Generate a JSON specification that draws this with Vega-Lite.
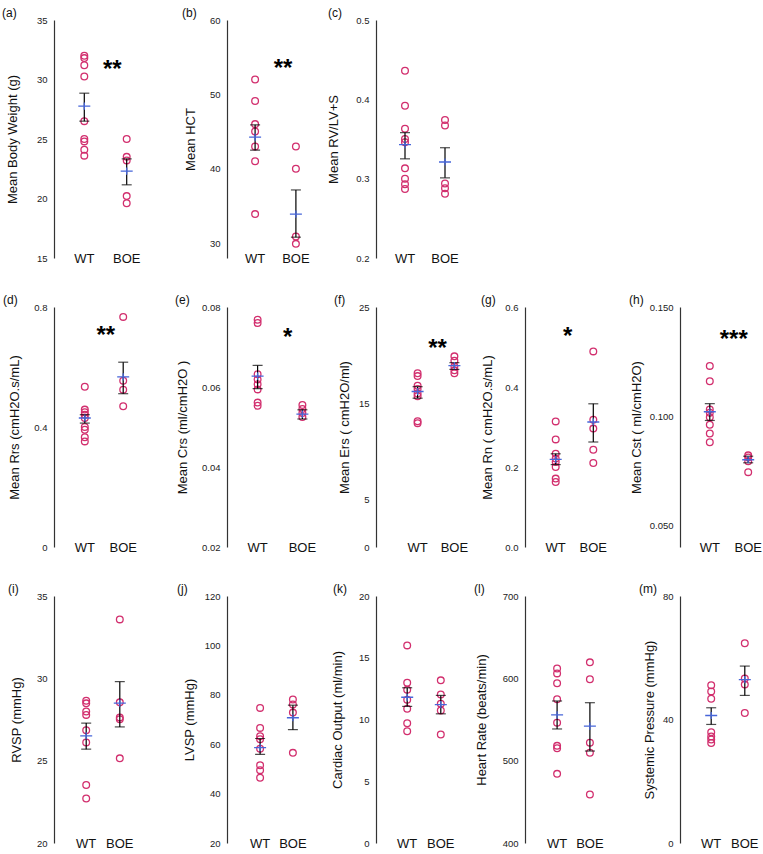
{
"$schema": "https://vega.github.io/schema/vega-lite/v6.json",
"padding": {"left": 2, "top": 7, "right": 0, "bottom": 0},
"datasets": {
"obs": [
{"p":"a","g":"WT","v":32.0},{"p":"a","g":"WT","v":31.8},{"p":"a","g":"WT","v":31.2},{"p":"a","g":"WT","v":30.25},{"p":"a","g":"WT","v":26.5},{"p":"a","g":"WT","v":25.0},{"p":"a","g":"WT","v":24.8},{"p":"a","g":"WT","v":24.1},{"p":"a","g":"WT","v":23.6},
{"p":"a","g":"BOE","v":25.0},{"p":"a","g":"BOE","v":23.5},{"p":"a","g":"BOE","v":23.2},{"p":"a","g":"BOE","v":20.2},{"p":"a","g":"BOE","v":19.6},
{"p":"b","g":"WT","v":52.0},{"p":"b","g":"WT","v":49.1},{"p":"b","g":"WT","v":46.0},{"p":"b","g":"WT","v":45.0},{"p":"b","g":"WT","v":43.0},{"p":"b","g":"WT","v":41.0},{"p":"b","g":"WT","v":33.9},
{"p":"b","g":"BOE","v":43.0},{"p":"b","g":"BOE","v":40.0},{"p":"b","g":"BOE","v":30.9},{"p":"b","g":"BOE","v":29.9},
{"p":"c","g":"WT","v":0.436},{"p":"c","g":"WT","v":0.392},{"p":"c","g":"WT","v":0.363},{"p":"c","g":"WT","v":0.350},{"p":"c","g":"WT","v":0.346},{"p":"c","g":"WT","v":0.313},{"p":"c","g":"WT","v":0.300},{"p":"c","g":"WT","v":0.293},{"p":"c","g":"WT","v":0.287},
{"p":"c","g":"BOE","v":0.374},{"p":"c","g":"BOE","v":0.367},{"p":"c","g":"BOE","v":0.294},{"p":"c","g":"BOE","v":0.288},{"p":"c","g":"BOE","v":0.281},
{"p":"d","g":"WT","v":0.534},{"p":"d","g":"WT","v":0.458},{"p":"d","g":"WT","v":0.449},{"p":"d","g":"WT","v":0.441},{"p":"d","g":"WT","v":0.43},{"p":"d","g":"WT","v":0.40},{"p":"d","g":"WT","v":0.391},{"p":"d","g":"WT","v":0.366},{"p":"d","g":"WT","v":0.352},
{"p":"d","g":"BOE","v":0.767},{"p":"d","g":"BOE","v":0.554},{"p":"d","g":"BOE","v":0.524},{"p":"d","g":"BOE","v":0.469},
{"p":"e","g":"WT","v":0.0768},{"p":"e","g":"WT","v":0.076},{"p":"e","g":"WT","v":0.0632},{"p":"e","g":"WT","v":0.0619},{"p":"e","g":"WT","v":0.0607},{"p":"e","g":"WT","v":0.0594},{"p":"e","g":"WT","v":0.0561},{"p":"e","g":"WT","v":0.0553},
{"p":"e","g":"BOE","v":0.0555},{"p":"e","g":"BOE","v":0.0545},{"p":"e","g":"BOE","v":0.0535},{"p":"e","g":"BOE","v":0.0525},
{"p":"f","g":"WT","v":18.1},{"p":"f","g":"WT","v":17.8},{"p":"f","g":"WT","v":16.8},{"p":"f","g":"WT","v":16.46},{"p":"f","g":"WT","v":16.0},{"p":"f","g":"WT","v":15.7},{"p":"f","g":"WT","v":13.1},{"p":"f","g":"WT","v":12.9},
{"p":"f","g":"BOE","v":19.86},{"p":"f","g":"BOE","v":19.4},{"p":"f","g":"BOE","v":18.8},{"p":"f","g":"BOE","v":18.4},{"p":"f","g":"BOE","v":18.1},
{"p":"g","g":"WT","v":0.314},{"p":"g","g":"WT","v":0.269},{"p":"g","g":"WT","v":0.233},{"p":"g","g":"WT","v":0.221},{"p":"g","g":"WT","v":0.2125},{"p":"g","g":"WT","v":0.2},{"p":"g","g":"WT","v":0.171},{"p":"g","g":"WT","v":0.1625},
{"p":"g","g":"BOE","v":0.489},{"p":"g","g":"BOE","v":0.318},{"p":"g","g":"BOE","v":0.296},{"p":"g","g":"BOE","v":0.243},{"p":"g","g":"BOE","v":0.21},
{"p":"h","g":"WT","v":0.123},{"p":"h","g":"WT","v":0.116},{"p":"h","g":"WT","v":0.103},{"p":"h","g":"WT","v":0.1015},{"p":"h","g":"WT","v":0.0995},{"p":"h","g":"WT","v":0.096},{"p":"h","g":"WT","v":0.092},{"p":"h","g":"WT","v":0.088},
{"p":"h","g":"BOE","v":0.082},{"p":"h","g":"BOE","v":0.081},{"p":"h","g":"BOE","v":0.0793},{"p":"h","g":"BOE","v":0.0743},
{"p":"i","g":"WT","v":28.64},{"p":"i","g":"WT","v":28.48},{"p":"i","g":"WT","v":27.99},{"p":"i","g":"WT","v":27.78},{"p":"i","g":"WT","v":26.85},{"p":"i","g":"WT","v":26.1},{"p":"i","g":"WT","v":23.52},{"p":"i","g":"WT","v":22.7},
{"p":"i","g":"BOE","v":33.58},{"p":"i","g":"BOE","v":28.54},{"p":"i","g":"BOE","v":27.62},{"p":"i","g":"BOE","v":27.52},{"p":"i","g":"BOE","v":25.14},
{"p":"j","g":"WT","v":74.7},{"p":"j","g":"WT","v":66.6},{"p":"j","g":"WT","v":63.2},{"p":"j","g":"WT","v":62.0},{"p":"j","g":"WT","v":58.2},{"p":"j","g":"WT","v":51.5},{"p":"j","g":"WT","v":49.5},{"p":"j","g":"WT","v":46.4},
{"p":"j","g":"BOE","v":78.1},{"p":"j","g":"BOE","v":76.1},{"p":"j","g":"BOE","v":72.8},{"p":"j","g":"BOE","v":56.5},
{"p":"k","g":"WT","v":16.0},{"p":"k","g":"WT","v":12.98},{"p":"k","g":"WT","v":12.4},{"p":"k","g":"WT","v":11.6},{"p":"k","g":"WT","v":10.87},{"p":"k","g":"WT","v":9.7},{"p":"k","g":"WT","v":9.05},
{"p":"k","g":"BOE","v":13.17},{"p":"k","g":"BOE","v":12.03},{"p":"k","g":"BOE","v":11.27},{"p":"k","g":"BOE","v":10.73},{"p":"k","g":"BOE","v":8.78},
{"p":"l","g":"WT","v":612},{"p":"l","g":"WT","v":606},{"p":"l","g":"WT","v":594},{"p":"l","g":"WT","v":574.5},{"p":"l","g":"WT","v":546},{"p":"l","g":"WT","v":518},{"p":"l","g":"WT","v":515},{"p":"l","g":"WT","v":484},
{"p":"l","g":"BOE","v":619.4},{"p":"l","g":"BOE","v":598.8},{"p":"l","g":"BOE","v":521.9},{"p":"l","g":"BOE","v":509.7},{"p":"l","g":"BOE","v":459},
{"p":"m","g":"WT","v":51.1},{"p":"m","g":"WT","v":49.1},{"p":"m","g":"WT","v":46.7},{"p":"m","g":"WT","v":35.9},{"p":"m","g":"WT","v":34.5},{"p":"m","g":"WT","v":33.5},{"p":"m","g":"WT","v":32.4},
{"p":"m","g":"BOE","v":64.7},{"p":"m","g":"BOE","v":53.3},{"p":"m","g":"BOE","v":51.3},{"p":"m","g":"BOE","v":42.1}
],
"mean": [
{"p":"a","g":"WT","v":27.76},{"p":"a","g":"BOE","v":22.3},
{"p":"b","g":"WT","v":44.25},{"p":"b","g":"BOE","v":33.9},
{"p":"c","g":"WT","v":0.343},{"p":"c","g":"BOE","v":0.321},
{"p":"d","g":"WT","v":0.43},{"p":"d","g":"BOE","v":0.567},
{"p":"e","g":"WT","v":0.0627},{"p":"e","g":"BOE","v":0.0532},
{"p":"f","g":"WT","v":16.2},{"p":"f","g":"BOE","v":18.9},
{"p":"g","g":"WT","v":0.219},{"p":"g","g":"BOE","v":0.3125},
{"p":"h","g":"WT","v":0.102},{"p":"h","g":"BOE","v":0.080},
{"p":"i","g":"WT","v":26.5},{"p":"i","g":"BOE","v":28.5},
{"p":"j","g":"WT","v":58.6},{"p":"j","g":"BOE","v":70.7},
{"p":"k","g":"WT","v":11.8},{"p":"k","g":"BOE","v":11.2},
{"p":"l","g":"WT","v":555.5},{"p":"l","g":"BOE","v":542},
{"p":"m","g":"WT","v":41.3},{"p":"m","g":"BOE","v":52.9}
],
"err": [
{"p":"a","g":"WT","v":26.5},{"p":"a","g":"WT","v":28.85},{"p":"a","g":"BOE","v":21.15},{"p":"a","g":"BOE","v":23.33},
{"p":"b","g":"WT","v":42.5},{"p":"b","g":"WT","v":45.9},{"p":"b","g":"BOE","v":30.8},{"p":"b","g":"BOE","v":37.15},
{"p":"c","g":"WT","v":0.325},{"p":"c","g":"WT","v":0.358},{"p":"c","g":"BOE","v":0.301},{"p":"c","g":"BOE","v":0.339},
{"p":"d","g":"WT","v":0.413},{"p":"d","g":"WT","v":0.441},{"p":"d","g":"BOE","v":0.511},{"p":"d","g":"BOE","v":0.616},
{"p":"e","g":"WT","v":0.0596},{"p":"e","g":"WT","v":0.0654},{"p":"e","g":"BOE","v":0.052},{"p":"e","g":"BOE","v":0.0543},
{"p":"f","g":"WT","v":15.5},{"p":"f","g":"WT","v":16.7},{"p":"f","g":"BOE","v":18.5},{"p":"f","g":"BOE","v":19.2},
{"p":"g","g":"WT","v":0.206},{"p":"g","g":"WT","v":0.233},{"p":"g","g":"BOE","v":0.2625},{"p":"g","g":"BOE","v":0.358},
{"p":"h","g":"WT","v":0.098},{"p":"h","g":"WT","v":0.1057},{"p":"h","g":"BOE","v":0.0786},{"p":"h","g":"BOE","v":0.0816},
{"p":"i","g":"WT","v":25.7},{"p":"i","g":"WT","v":27.28},{"p":"i","g":"BOE","v":27.05},{"p":"i","g":"BOE","v":29.8},
{"p":"j","g":"WT","v":55.9},{"p":"j","g":"WT","v":62.3},{"p":"j","g":"BOE","v":65.9},{"p":"j","g":"BOE","v":75.8},
{"p":"k","g":"WT","v":11.06},{"p":"k","g":"WT","v":12.57},{"p":"k","g":"BOE","v":10.46},{"p":"k","g":"BOE","v":11.95},
{"p":"l","g":"WT","v":538.5},{"p":"l","g":"WT","v":572.5},{"p":"l","g":"BOE","v":511.7},{"p":"l","g":"BOE","v":570.4},
{"p":"m","g":"WT","v":38.4},{"p":"m","g":"WT","v":43.8},{"p":"m","g":"BOE","v":47.8},{"p":"m","g":"BOE","v":57.3}
],
"sig": [
{"p":"a","g":"WT","v":31.2,"t":"**"},
{"p":"b","g":"WT","v":54.1,"t":"**"},
{"p":"d","g":"WT","v":0.719,"t":"**"},
{"p":"e","g":"WT","v":0.0734,"t":"*"},
{"p":"f","g":"WT","v":21.15,"t":"**"},
{"p":"g","g":"WT","v":0.5375,"t":"*"},
{"p":"h","g":"WT","v":0.137,"t":"***"}
]
},
"columns": 5,
"spacing": {"row": 49, "column": 55},
"bounds": "flush",
"align": "each",
"concat": [
{"width":118,"height":238,"title":{"text":"(a)","dx":-52},
 "encoding":{"x":{"field":"g","type":"nominal","scale":{"domain":["WT","BOE"],"range":[-1.5,104.5],"padding":0.5},"axis":{"title":null}},
  "y":{"field":"v","type":"quantitative","scale":{"domain":[15,35],"nice":false,"zero":false},"axis":{"title":"Mean Body Weight (g)","values":[15,20,25,30,35],"format":"d","titleX":-42}}},
 "layer":[
  {"data":{"name":"obs"},"transform":[{"filter":"datum.p==='a'"}],"mark":{"type":"point","shape":"circle","filled":false,"color":"#d22f6e","size":45,"strokeWidth":1.3,"opacity":1}},
  {"data":{"name":"err"},"transform":[{"filter":"datum.p==='a'"}],"mark":{"type":"line","color":"#000","strokeWidth":1.2},"encoding":{"detail":{"field":"g"}}},
  {"data":{"name":"err"},"transform":[{"filter":"datum.p==='a'"}],"mark":{"type":"tick","color":"#000","size":10,"thickness":1.2}},
  {"data":{"name":"mean"},"transform":[{"filter":"datum.p==='a'"}],"mark":{"type":"point","shape":"M-1,0H1M0,-0.6V0.6","filled":false,"color":"#4766d9","size":144,"strokeWidth":1.3,"opacity":1}},
  {"data":{"name":"sig"},"transform":[{"filter":"datum.p==='a'"}],"mark":{"type":"text","fontSize":24,"fontWeight":"bold","dx":28,"dy":12,"baseline":"alphabetic","align":"center","color":"#000"},"encoding":{"text":{"field":"t"}}}
 ]},
{"width":94,"height":238,"title":{"text":"(b)","dx":-45},
 "encoding":{"x":{"field":"g","type":"nominal","scale":{"domain":["WT","BOE"],"range":[-2.5,99.5],"padding":0.5},"axis":{"title":null}},
  "y":{"field":"v","type":"quantitative","scale":{"domain":[28,60],"nice":false,"zero":false},"axis":{"title":"Mean HCT","values":[30,40,50,60],"format":"d","titleX":-37}}},
 "layer":[
  {"data":{"name":"obs"},"transform":[{"filter":"datum.p==='b'"}],"mark":{"type":"point","shape":"circle","filled":false,"color":"#d22f6e","size":45,"strokeWidth":1.3,"opacity":1}},
  {"data":{"name":"err"},"transform":[{"filter":"datum.p==='b'"}],"mark":{"type":"line","color":"#000","strokeWidth":1.2},"encoding":{"detail":{"field":"g"}}},
  {"data":{"name":"err"},"transform":[{"filter":"datum.p==='b'"}],"mark":{"type":"tick","color":"#000","size":10,"thickness":1.2}},
  {"data":{"name":"mean"},"transform":[{"filter":"datum.p==='b'"}],"mark":{"type":"point","shape":"M-1,0H1M0,-0.6V0.6","filled":false,"color":"#4766d9","size":144,"strokeWidth":1.3,"opacity":1}},
  {"data":{"name":"sig"},"transform":[{"filter":"datum.p==='b'"}],"mark":{"type":"text","fontSize":24,"fontWeight":"bold","dx":28,"dy":12,"baseline":"alphabetic","align":"center","color":"#000"},"encoding":{"text":{"field":"t"}}}
 ]},
{"width":94,"height":238,"title":{"text":"(c)","dx":-48},
 "encoding":{"x":{"field":"g","type":"nominal","scale":{"domain":["WT","BOE"],"range":[-1,99],"padding":0.5},"axis":{"title":null}},
  "y":{"field":"v","type":"quantitative","scale":{"domain":[0.2,0.5],"nice":false,"zero":false},"axis":{"title":"Mean RV/LV+S","values":[0.2,0.3,0.4,0.5],"format":".1f","titleX":-43}}},
 "layer":[
  {"data":{"name":"obs"},"transform":[{"filter":"datum.p==='c'"}],"mark":{"type":"point","shape":"circle","filled":false,"color":"#d22f6e","size":45,"strokeWidth":1.3,"opacity":1}},
  {"data":{"name":"err"},"transform":[{"filter":"datum.p==='c'"}],"mark":{"type":"line","color":"#000","strokeWidth":1.2},"encoding":{"detail":{"field":"g"}}},
  {"data":{"name":"err"},"transform":[{"filter":"datum.p==='c'"}],"mark":{"type":"tick","color":"#000","size":10,"thickness":1.2}},
  {"data":{"name":"mean"},"transform":[{"filter":"datum.p==='c'"}],"mark":{"type":"point","shape":"M-1,0H1M0,-0.6V0.6","filled":false,"color":"#4766d9","size":144,"strokeWidth":1.3,"opacity":1}}
 ]},
{"width":10,"height":10,"data":{"values":[{}]},"mark":{"type":"point","opacity":0},"encoding":{}},
{"width":10,"height":10,"data":{"values":[{}]},"mark":{"type":"point","opacity":0},"encoding":{}},
{"width":118,"height":240,"title":{"text":"(d)","dx":-51},
 "encoding":{"x":{"field":"g","type":"nominal","scale":{"domain":["WT","BOE"],"range":[2,98],"padding":0.5},"axis":{"title":null}},
  "y":{"field":"v","type":"quantitative","scale":{"domain":[0,0.8],"nice":false,"zero":false},"axis":{"title":"Mean Rrs (cmH2O.s/mL)","values":[0,0.4,0.8],"format":"~g","titleX":-40}}},
 "layer":[
  {"data":{"name":"obs"},"transform":[{"filter":"datum.p==='d'"}],"mark":{"type":"point","shape":"circle","filled":false,"color":"#d22f6e","size":45,"strokeWidth":1.3,"opacity":1}},
  {"data":{"name":"err"},"transform":[{"filter":"datum.p==='d'"}],"mark":{"type":"line","color":"#000","strokeWidth":1.2},"encoding":{"detail":{"field":"g"}}},
  {"data":{"name":"err"},"transform":[{"filter":"datum.p==='d'"}],"mark":{"type":"tick","color":"#000","size":10,"thickness":1.2}},
  {"data":{"name":"mean"},"transform":[{"filter":"datum.p==='d'"}],"mark":{"type":"point","shape":"M-1,0H1M0,-0.6V0.6","filled":false,"color":"#4766d9","size":144,"strokeWidth":1.3,"opacity":1}},
  {"data":{"name":"sig"},"transform":[{"filter":"datum.p==='d'"}],"mark":{"type":"text","fontSize":24,"fontWeight":"bold","dx":21,"dy":12,"baseline":"alphabetic","align":"center","color":"#000"},"encoding":{"text":{"field":"t"}}}
 ]},
{"width":94,"height":240,"title":{"text":"(e)","dx":-52},
 "encoding":{"x":{"field":"g","type":"nominal","scale":{"domain":["WT","BOE"],"range":[-3,109],"padding":0.5},"axis":{"title":null}},
  "y":{"field":"v","type":"quantitative","scale":{"domain":[0.02,0.08],"nice":false,"zero":false},"axis":{"title":"Mean Crs (ml/cmH2O )","values":[0.02,0.04,0.06,0.08],"format":".2f","titleX":-45}}},
 "layer":[
  {"data":{"name":"obs"},"transform":[{"filter":"datum.p==='e'"}],"mark":{"type":"point","shape":"circle","filled":false,"color":"#d22f6e","size":45,"strokeWidth":1.3,"opacity":1}},
  {"data":{"name":"err"},"transform":[{"filter":"datum.p==='e'"}],"mark":{"type":"line","color":"#000","strokeWidth":1.2},"encoding":{"detail":{"field":"g"}}},
  {"data":{"name":"err"},"transform":[{"filter":"datum.p==='e'"}],"mark":{"type":"tick","color":"#000","size":10,"thickness":1.2}},
  {"data":{"name":"mean"},"transform":[{"filter":"datum.p==='e'"}],"mark":{"type":"point","shape":"M-1,0H1M0,-0.6V0.6","filled":false,"color":"#4766d9","size":144,"strokeWidth":1.3,"opacity":1}},
  {"data":{"name":"sig"},"transform":[{"filter":"datum.p==='e'"}],"mark":{"type":"text","fontSize":24,"fontWeight":"bold","dx":30,"dy":12,"baseline":"alphabetic","align":"center","color":"#000"},"encoding":{"text":{"field":"t"}}}
 ]},
{"width":94,"height":240,"title":{"text":"(f)","dx":-42},
 "encoding":{"x":{"field":"g","type":"nominal","scale":{"domain":["WT","BOE"],"range":[14,106],"padding":0.5},"axis":{"title":null}},
  "y":{"field":"v","type":"quantitative","scale":{"domain":[0,25],"nice":false,"zero":false},"axis":{"title":"Mean Ers ( cmH2O/ml)","values":[0,5,15,25],"format":"d","titleX":-32}}},
 "layer":[
  {"data":{"name":"obs"},"transform":[{"filter":"datum.p==='f'"}],"mark":{"type":"point","shape":"circle","filled":false,"color":"#d22f6e","size":45,"strokeWidth":1.3,"opacity":1}},
  {"data":{"name":"err"},"transform":[{"filter":"datum.p==='f'"}],"mark":{"type":"line","color":"#000","strokeWidth":1.2},"encoding":{"detail":{"field":"g"}}},
  {"data":{"name":"err"},"transform":[{"filter":"datum.p==='f'"}],"mark":{"type":"tick","color":"#000","size":10,"thickness":1.2}},
  {"data":{"name":"mean"},"transform":[{"filter":"datum.p==='f'"}],"mark":{"type":"point","shape":"M-1,0H1M0,-0.6V0.6","filled":false,"color":"#4766d9","size":144,"strokeWidth":1.3,"opacity":1}},
  {"data":{"name":"sig"},"transform":[{"filter":"datum.p==='f'"}],"mark":{"type":"text","fontSize":24,"fontWeight":"bold","dx":20,"dy":12,"baseline":"alphabetic","align":"center","color":"#000"},"encoding":{"text":{"field":"t"}}}
 ]},
{"width":100,"height":240,"title":{"text":"(g)","dx":-44},
 "encoding":{"x":{"field":"g","type":"nominal","scale":{"domain":["WT","BOE"],"range":[2.5,96.5],"padding":0.5},"axis":{"title":null}},
  "y":{"field":"v","type":"quantitative","scale":{"domain":[0,0.6],"nice":false,"zero":false},"axis":{"title":"Mean Rn ( cmH2O.s/mL)","values":[0,0.2,0.4,0.6],"format":".1f","titleX":-38}}},
 "layer":[
  {"data":{"name":"obs"},"transform":[{"filter":"datum.p==='g'"}],"mark":{"type":"point","shape":"circle","filled":false,"color":"#d22f6e","size":45,"strokeWidth":1.3,"opacity":1}},
  {"data":{"name":"err"},"transform":[{"filter":"datum.p==='g'"}],"mark":{"type":"line","color":"#000","strokeWidth":1.2},"encoding":{"detail":{"field":"g"}}},
  {"data":{"name":"err"},"transform":[{"filter":"datum.p==='g'"}],"mark":{"type":"tick","color":"#000","size":10,"thickness":1.2}},
  {"data":{"name":"mean"},"transform":[{"filter":"datum.p==='g'"}],"mark":{"type":"point","shape":"M-1,0H1M0,-0.6V0.6","filled":false,"color":"#4766d9","size":144,"strokeWidth":1.3,"opacity":1}},
  {"data":{"name":"sig"},"transform":[{"filter":"datum.p==='g'"}],"mark":{"type":"text","fontSize":24,"fontWeight":"bold","dx":12,"dy":12,"baseline":"alphabetic","align":"center","color":"#000"},"encoding":{"text":{"field":"t"}}}
 ]},
{"width":80,"height":240,"title":{"text":"(h)","dx":-51},
 "encoding":{"x":{"field":"g","type":"nominal","scale":{"domain":["WT","BOE"],"range":[1,97],"padding":0.5},"axis":{"title":null}},
  "y":{"field":"v","type":"quantitative","scale":{"domain":[0.04,0.15],"nice":false,"zero":false},"axis":{"title":"Mean Cst ( ml/cmH2O)","values":[0.05,0.1,0.15],"format":".3f","titleX":-44}}},
 "layer":[
  {"data":{"name":"obs"},"transform":[{"filter":"datum.p==='h'"}],"mark":{"type":"point","shape":"circle","filled":false,"color":"#d22f6e","size":45,"strokeWidth":1.3,"opacity":1}},
  {"data":{"name":"err"},"transform":[{"filter":"datum.p==='h'"}],"mark":{"type":"line","color":"#000","strokeWidth":1.2},"encoding":{"detail":{"field":"g"}}},
  {"data":{"name":"err"},"transform":[{"filter":"datum.p==='h'"}],"mark":{"type":"tick","color":"#000","size":10,"thickness":1.2}},
  {"data":{"name":"mean"},"transform":[{"filter":"datum.p==='h'"}],"mark":{"type":"point","shape":"M-1,0H1M0,-0.6V0.6","filled":false,"color":"#4766d9","size":144,"strokeWidth":1.3,"opacity":1}},
  {"data":{"name":"sig"},"transform":[{"filter":"datum.p==='h'"}],"mark":{"type":"text","fontSize":24,"fontWeight":"bold","dx":24,"dy":12,"baseline":"alphabetic","align":"center","color":"#000"},"encoding":{"text":{"field":"t"}}}
 ]},
{"width":118,"height":247,"title":{"text":"(i)","dx":-46},
 "encoding":{"x":{"field":"g","type":"nominal","scale":{"domain":["WT","BOE"],"range":[7,91],"padding":0.5},"axis":{"title":null}},
  "y":{"field":"v","type":"quantitative","scale":{"domain":[20,35],"nice":false,"zero":false},"axis":{"title":"RVSP (mmHg)","values":[20,25,30,35],"format":"d","titleX":-38}}},
 "layer":[
  {"data":{"name":"obs"},"transform":[{"filter":"datum.p==='i'"}],"mark":{"type":"point","shape":"circle","filled":false,"color":"#d22f6e","size":45,"strokeWidth":1.3,"opacity":1}},
  {"data":{"name":"err"},"transform":[{"filter":"datum.p==='i'"}],"mark":{"type":"line","color":"#000","strokeWidth":1.2},"encoding":{"detail":{"field":"g"}}},
  {"data":{"name":"err"},"transform":[{"filter":"datum.p==='i'"}],"mark":{"type":"tick","color":"#000","size":10,"thickness":1.2}},
  {"data":{"name":"mean"},"transform":[{"filter":"datum.p==='i'"}],"mark":{"type":"point","shape":"M-1,0H1M0,-0.6V0.6","filled":false,"color":"#4766d9","size":144,"strokeWidth":1.3,"opacity":1}}
 ]},
{"width":94,"height":247,"title":{"text":"(j)","dx":-50},
 "encoding":{"x":{"field":"g","type":"nominal","scale":{"domain":["WT","BOE"],"range":[8.5,90.5],"padding":0.5},"axis":{"title":null}},
  "y":{"field":"v","type":"quantitative","scale":{"domain":[20,120],"nice":false,"zero":false},"axis":{"title":"LVSP (mmHg)","values":[20,40,60,80,100,120],"format":"d","titleX":-38}}},
 "layer":[
  {"data":{"name":"obs"},"transform":[{"filter":"datum.p==='j'"}],"mark":{"type":"point","shape":"circle","filled":false,"color":"#d22f6e","size":45,"strokeWidth":1.3,"opacity":1}},
  {"data":{"name":"err"},"transform":[{"filter":"datum.p==='j'"}],"mark":{"type":"line","color":"#000","strokeWidth":1.2},"encoding":{"detail":{"field":"g"}}},
  {"data":{"name":"err"},"transform":[{"filter":"datum.p==='j'"}],"mark":{"type":"tick","color":"#000","size":10,"thickness":1.2}},
  {"data":{"name":"mean"},"transform":[{"filter":"datum.p==='j'"}],"mark":{"type":"point","shape":"M-1,0H1M0,-0.6V0.6","filled":false,"color":"#4766d9","size":144,"strokeWidth":1.3,"opacity":1}}
 ]},
{"width":94,"height":247,"title":{"text":"(k)","dx":-43},
 "encoding":{"x":{"field":"g","type":"nominal","scale":{"domain":["WT","BOE"],"range":[6,90],"padding":0.5},"axis":{"title":null}},
  "y":{"field":"v","type":"quantitative","scale":{"domain":[0,20],"nice":false,"zero":false},"axis":{"title":"Cardiac Output (ml/min)","values":[0,5,10,15,20],"format":"d","titleX":-39}}},
 "layer":[
  {"data":{"name":"obs"},"transform":[{"filter":"datum.p==='k'"}],"mark":{"type":"point","shape":"circle","filled":false,"color":"#d22f6e","size":45,"strokeWidth":1.3,"opacity":1}},
  {"data":{"name":"err"},"transform":[{"filter":"datum.p==='k'"}],"mark":{"type":"line","color":"#000","strokeWidth":1.2},"encoding":{"detail":{"field":"g"}}},
  {"data":{"name":"err"},"transform":[{"filter":"datum.p==='k'"}],"mark":{"type":"tick","color":"#000","size":10,"thickness":1.2}},
  {"data":{"name":"mean"},"transform":[{"filter":"datum.p==='k'"}],"mark":{"type":"point","shape":"M-1,0H1M0,-0.6V0.6","filled":false,"color":"#4766d9","size":144,"strokeWidth":1.3,"opacity":1}}
 ]},
{"width":100,"height":247,"title":{"text":"(l)","dx":-51},
 "encoding":{"x":{"field":"g","type":"nominal","scale":{"domain":["WT","BOE"],"range":[7.5,89.5],"padding":0.5},"axis":{"title":null}},
  "y":{"field":"v","type":"quantitative","scale":{"domain":[400,700],"nice":false,"zero":false},"axis":{"title":"Heart Rate (beats/min)","values":[400,500,600,700],"format":"d","titleX":-44}}},
 "layer":[
  {"data":{"name":"obs"},"transform":[{"filter":"datum.p==='l'"}],"mark":{"type":"point","shape":"circle","filled":false,"color":"#d22f6e","size":45,"strokeWidth":1.3,"opacity":1}},
  {"data":{"name":"err"},"transform":[{"filter":"datum.p==='l'"}],"mark":{"type":"line","color":"#000","strokeWidth":1.2},"encoding":{"detail":{"field":"g"}}},
  {"data":{"name":"err"},"transform":[{"filter":"datum.p==='l'"}],"mark":{"type":"tick","color":"#000","size":10,"thickness":1.2}},
  {"data":{"name":"mean"},"transform":[{"filter":"datum.p==='l'"}],"mark":{"type":"point","shape":"M-1,0H1M0,-0.6V0.6","filled":false,"color":"#4766d9","size":144,"strokeWidth":1.3,"opacity":1}}
 ]},
{"width":80,"height":247,"title":{"text":"(m)","dx":-41},
 "encoding":{"x":{"field":"g","type":"nominal","scale":{"domain":["WT","BOE"],"range":[6,90],"padding":0.5},"axis":{"title":null}},
  "y":{"field":"v","type":"quantitative","scale":{"domain":[0,80],"nice":false,"zero":false},"axis":{"title":"Systemic Pressure  (mmHg)","values":[0,40,80],"format":"d","titleX":-31}}},
 "layer":[
  {"data":{"name":"obs"},"transform":[{"filter":"datum.p==='m'"}],"mark":{"type":"point","shape":"circle","filled":false,"color":"#d22f6e","size":45,"strokeWidth":1.3,"opacity":1}},
  {"data":{"name":"err"},"transform":[{"filter":"datum.p==='m'"}],"mark":{"type":"line","color":"#000","strokeWidth":1.2},"encoding":{"detail":{"field":"g"}}},
  {"data":{"name":"err"},"transform":[{"filter":"datum.p==='m'"}],"mark":{"type":"tick","color":"#000","size":10,"thickness":1.2}},
  {"data":{"name":"mean"},"transform":[{"filter":"datum.p==='m'"}],"mark":{"type":"point","shape":"M-1,0H1M0,-0.6V0.6","filled":false,"color":"#4766d9","size":144,"strokeWidth":1.3,"opacity":1}}
 ]}
],
"config": {
 "view": {"stroke": null},
 "font": "Liberation Sans",
 "axis": {"grid": false, "ticks": false, "tickSize": 0, "labelFont": "Liberation Sans", "titleFont": "Liberation Sans", "titleFontWeight": "normal", "labelColor": "#222", "titleColor": "#111"},
 "axisX": {"domain": false, "labelFontSize": 13, "labelAngle": 0, "labelPadding": 0, "labelBaseline": "middle", "labelColor": "#111", "labelFlush": false, "labelOverlap": false},
 "axisY": {"domainColor": "#333", "domainWidth": 1.2, "labelFontSize": 9.5, "labelPadding": 7, "titleFontSize": 13, "titleBaseline": "middle"},
 "title": {"anchor": "start", "frame": "group", "fontSize": 12, "fontWeight": "normal", "offset": -5, "color": "#111", "font": "Liberation Sans"}
}
}
